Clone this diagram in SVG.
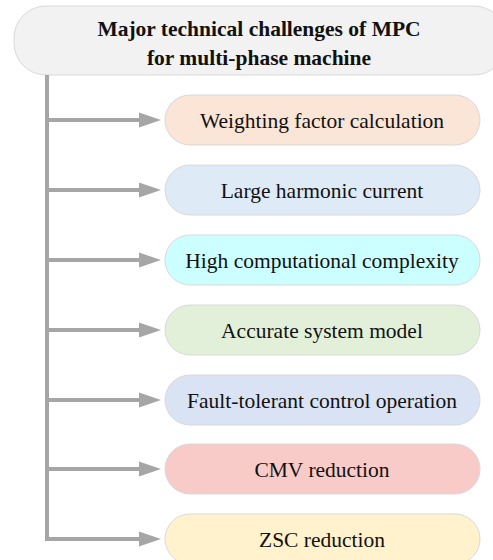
<svg xmlns="http://www.w3.org/2000/svg" width="493" height="560" viewBox="0 0 493 560">
<style>
.box{stroke:#D9D9D9;stroke-width:1}
.t{font-family:"Liberation Serif","Times New Roman",serif;font-size:21.5px;fill:#111;text-anchor:middle}
.title{font-weight:bold}
.conn{stroke:#A6A6A6;stroke-width:4;fill:none}
.head{fill:#A6A6A6}
</style>
<defs>
<path id="ah" class="head" d="M-22,-7.5 L0,0 L-22,7.5 Z"/>
</defs>
<g id="title">
<rect class="box" x="14" y="6" width="492" height="69" rx="32" fill="#F2F2F2"/>
<text class="t title" x="259" y="36">Major technical challenges of MPC</text>
<text class="t title" x="259" y="65">for multi-phase machine</text>
</g>
<g id="connectors">
<path class="conn" d="M47,75 V540"/>
<path class="conn" d="M47,120 H145"/><use href="#ah" x="161" y="120"/>
<path class="conn" d="M47,190 H145"/><use href="#ah" x="161" y="190"/>
<path class="conn" d="M47,260 H145"/><use href="#ah" x="161" y="260"/>
<path class="conn" d="M47,330 H145"/><use href="#ah" x="161" y="330"/>
<path class="conn" d="M47,400 H145"/><use href="#ah" x="161" y="400"/>
<path class="conn" d="M47,469 H145"/><use href="#ah" x="161" y="469"/>
<path class="conn" d="M45,539 H145"/><use href="#ah" x="161" y="539"/>
</g>
<g id="n1"><rect class="box" x="165" y="95" width="315" height="50" rx="25" fill="#FBE5D6"/><text class="t" x="322" y="128">Weighting factor calculation</text></g>
<g id="n2"><rect class="box" x="165" y="165" width="315" height="50" rx="25" fill="#DEEBF7"/><text class="t" x="322" y="198">Large harmonic current</text></g>
<g id="n3"><rect class="box" x="165" y="235" width="315" height="50" rx="25" fill="#CCFFFF"/><text class="t" x="322" y="268">High computational complexity</text></g>
<g id="n4"><rect class="box" x="165" y="305" width="315" height="50" rx="25" fill="#E2F0D9"/><text class="t" x="322" y="338">Accurate system model</text></g>
<g id="n5"><rect class="box" x="165" y="375" width="315" height="50" rx="25" fill="#DAE3F3"/><text class="t" x="322" y="408">Fault-tolerant control operation</text></g>
<g id="n6"><rect class="box" x="165" y="444" width="315" height="50" rx="25" fill="#F8CBC8"/><text class="t" x="322" y="477">CMV reduction</text></g>
<g id="n7"><rect class="box" x="165" y="514" width="315" height="50" rx="25" fill="#FFF2CC"/><text class="t" x="322" y="547">ZSC reduction</text></g>
</svg>
